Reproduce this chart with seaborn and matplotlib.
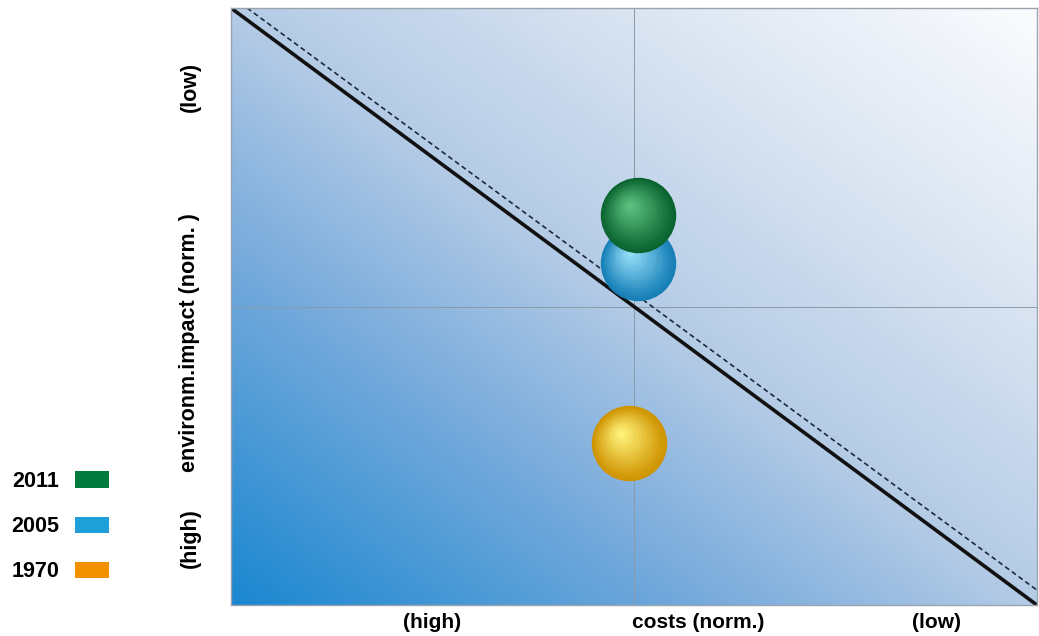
import numpy as np
import pandas as pd
import seaborn as sns
import matplotlib.pyplot as plt
import matplotlib.transforms as mtransforms
from matplotlib.colors import LinearSegmentedColormap, to_rgb
from matplotlib.patches import Patch

# data (normalised, 0..1 on both axes)
years = ['2011', '2005', '1970']
costs = [0.505, 0.505, 0.494]
impact = [0.653, 0.573, 0.271]
legend_colors = ['#007a3d', '#1fa0d8', '#f39200']
sphere_dark = ['#0a6430', '#167fb6', '#cf9400']
sphere_light = ['#5cc07f', '#95def8', '#fff27a']

# reference lines: cost = impact trade-off
line_x = [0.0, 1.0]
line_y = [1.0, 0.0]
dash_x = [0.02, 1.0]
dash_y = [1.0, 0.025]

x_ticks = [0.25, 0.58, 0.875]
x_ticklabels = ['(high)', 'costs (norm.)', '(low)']
y_ticks = [0.867, 0.439, 0.112]
y_ticklabels = ['(low)', 'environm.impact (norm. )', '(high)']


def sphere_layers(ax, fig, df):
    # fake 3d shading: stacked circles, getting lighter and shifting up-left
    n = 16
    base = 2950
    # draw bottom sphere first so 2011 ends up on top
    for k, row in enumerate(df.iloc[::-1].itertuples()):
        idx = years.index(row.year)
        d = np.array(to_rgb(sphere_dark[idx]))
        l = np.array(to_rgb(sphere_light[idx]))
        z = 3 + k
        ax.scatter([row.cost], [row.impact], s=base, color=tuple(d),
                   linewidths=0, zorder=z)
        for i in range(1, n):
            t = i / (n - 1)
            size = base * (1 - t) ** 1.5 + 15
            off = mtransforms.ScaledTranslation(-6 * t / 72, 7 * t / 72,
                                                fig.dpi_scale_trans)
            col = tuple(d + (l - d) * t ** 1.2)
            ax.scatter([row.cost], [row.impact], s=size, color=col,
                       linewidths=0, transform=ax.transData + off,
                       zorder=z + i * 0.01)


def main():
    df = pd.DataFrame({'year': years, 'cost': costs, 'impact': impact})

    sns.set_style('white')
    plt.rcParams['font.family'] = ['Liberation Sans', 'DejaVu Sans']
    plt.rcParams['text.color'] = 'black'
    plt.rcParams['xtick.color'] = 'black'
    plt.rcParams['ytick.color'] = 'black'

    fig = plt.figure(figsize=(10.39, 6.36), dpi=100)
    ax = fig.add_axes([0.2223, 0.0487, 0.7757, 0.9387])

    # background gradient
    g = np.linspace(0, 1, 300)
    gx, gy = np.meshgrid(g, g)
    grad = (gx + gy) / 2
    cmap = LinearSegmentedColormap.from_list('bg', [
        (0.0, '#1a87d0'), (0.3, '#78abdc'), (0.5, '#b4cbe6'),
        (0.75, '#dbe5f2'), (1.0, '#fbfcfe')])
    ax.imshow(grad, cmap=cmap, origin='lower', extent=[0, 1, 0, 1],
              aspect='auto', zorder=0, interpolation='bicubic')

    ax.axvline(0.5, color='#8a9aa8', lw=0.7, zorder=1)
    ax.axhline(0.5, color='#8a9aa8', lw=0.7, zorder=1)

    sns.lineplot(x=line_x, y=line_y, color='#111111', lw=2.6, ax=ax, zorder=2)
    sns.lineplot(x=dash_x, y=dash_y, color='#1a2a3a', lw=1.2, ax=ax, zorder=2,
                 linestyle=(0, (3, 2)))

    sphere_layers(ax, fig, df)

    ax.set_xlim(0, 1)
    ax.set_ylim(0, 1)
    ax.set_xlabel('')
    ax.set_ylabel('')
    ax.set_xticks(x_ticks)
    ax.set_xticklabels(x_ticklabels, fontsize=15, fontweight='bold')
    ax.set_yticks(y_ticks)
    ax.set_yticklabels(y_ticklabels, fontsize=15.5, fontweight='bold',
                       rotation=90, va='center')
    ax.tick_params(axis='x', length=0, pad=6)
    ax.tick_params(axis='y', length=0, pad=22)
    for s in ax.spines.values():
        s.set_color('#9aa4ae')
        s.set_linewidth(1.0)

    handles = [Patch(facecolor=c, edgecolor='none', label=y)
               for y, c in zip(years, legend_colors)]
    fig.legend(handles=handles, loc='center left',
               bbox_to_anchor=(-0.0077, 0.172), frameon=False, markerfirst=False,
               prop={'weight': 'bold', 'size': 15.5}, handlelength=1.58,
               handleheight=0.78, labelspacing=1.12, handletextpad=0.74)

    fig.savefig('out.png', dpi=100)
    plt.close(fig)


if __name__ == '__main__':
    main()
